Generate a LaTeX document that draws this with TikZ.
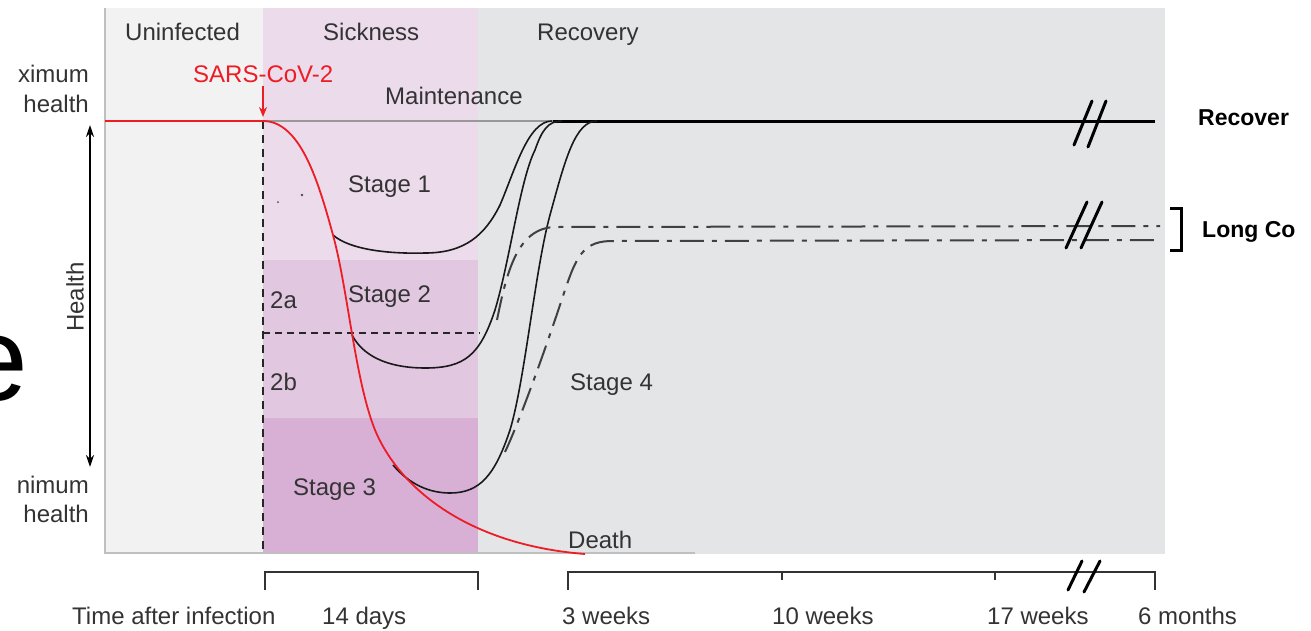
\documentclass[tikz,border=0pt]{standalone}
\usepackage{fontspec}
\setmainfont{Liberation Sans}
\usetikzlibrary{arrows.meta,positioning,calc}

\definecolor{uninf}{HTML}{F2F2F2}
\definecolor{recov}{HTML}{E4E5E7}
\definecolor{sick}{HTML}{EBDBEB}
\definecolor{stagetwo}{HTML}{E2C7E0}
\definecolor{stagethree}{HTML}{D8B0D6}
\definecolor{covred}{HTML}{EE1C25}
\definecolor{txt}{HTML}{333333}

\tikzset{
  lbl/.style={font=\fontsize{24}{28}\selectfont, inner sep=0pt, text=txt, anchor=base west},
  sidelbl/.style={lbl, font=\fontsize{23}{27}\selectfont\bfseries, text=black},
  curve/.style={line width=1.6pt, black!90},
  longcov/.style={line width=2pt, black!75, dash pattern=on 24pt off 8pt on 5pt off 8pt},
  brk/.style={line width=3pt, line cap=round, black},
  axisline/.style={line width=2pt, black!80}
}

\begin{document}
\begin{tikzpicture}[x=1pt, y=-1pt]
\useasboundingbox (0,0) rectangle (1311,630);

% panels
\fill[uninf] (105,8) rectangle (263,553);
\fill[sick] (263,8) rectangle (478,260);
\fill[stagetwo] (263,260) rectangle (478,418);
\fill[stagethree] (263,418) rectangle (478,553);
\fill[recov] (478,8) rectangle (1165,554);
\draw[black!25, line width=1.5pt] (105,8) -- (105,553) -- (695,553);

\node[anchor=base east, inner sep=0pt, font=\fontsize{120}{124}\selectfont] (bige) at (28,400) {e};

% headers
\node[lbl] (uninfected) at (125,40) {Uninfected};
\node[lbl] (sickness) at (323,40) {Sickness};
\node[lbl] (recovery) at (537,40) {Recovery};
\node[lbl, text=covred] (sars) at (193,82) {SARS-CoV-2};
\node[lbl] (maint) at (385,104) {Maintenance};

% health axis
\node[lbl, anchor=base east] (hmax) at (89,82) {ximum};
\node[lbl, anchor=base east] (hmaxb) at (89,112) {health};
\node[lbl, anchor=base east] (hmin) at (89,493) {nimum};
\node[lbl, anchor=base east] (hminb) at (89,522) {health};
\coordinate (hup) at (90,125);
\coordinate (hdown) at (90,467);
\draw[line width=2pt, {Stealth[length=12pt,width=8pt]}-{Stealth[length=12pt,width=8pt]}] (hup) -- (hdown);
\node[lbl, anchor=center, rotate=90] (health) at (75,297) {Health};

% infection marker and levels
\coordinate (inf) at (263,121);
\coordinate (infbot) at (263,553);
\draw[line width=1.6pt, dash pattern=on 8pt off 6pt, black!85] (inf) -- (infbot);
\draw[covred, line width=1.6pt, -{Stealth[length=10pt,width=8pt]}] (263,86) -- (263,117);
\draw[black!40, line width=2.5pt] (inf) -- (553,121);
\coordinate (topend) at (1155,121);
\draw[black, line width=3pt] (553,121) -- (topend);
\draw[line width=1.5pt, dash pattern=on 7pt off 5pt, black!85] (263,333) -- (480,333);
\fill[black!70] (278,202) circle (1pt) (302,195) circle (1.3pt);

% stage labels
\node[lbl] (s1) at (348,192) {Stage 1};
\node[lbl] (s2) at (348,302) {Stage 2};
\node[lbl] (s2a) at (270,308) {2a};
\node[lbl] (s2b) at (270,390) {2b};
\node[lbl] (s3) at (293,495) {Stage 3};
\node[lbl] (s4) at (570,390) {Stage 4};
\node[lbl] (death) at (568,548) {Death};

% recovery curves
\draw[curve] (333,235) .. controls (350,250) and (390,254) .. (425,253)
  .. controls (465,253) and (485,235) .. (500,205)
  .. controls (515,170) and (528,121) .. (552,121);
\draw[curve] (352,335) .. controls (365,360) and (395,368) .. (425,368)
  .. controls (465,368) and (480,355) .. (495,310)
  .. controls (510,260) and (520,180) .. (535,150)
  .. controls (542,130) and (548,121) .. (562,121);
\draw[curve] (393,465) .. controls (410,485) and (430,493) .. (450,493)
  .. controls (480,493) and (495,475) .. (510,430)
  .. controls (525,380) and (535,270) .. (550,215)
  .. controls (565,160) and (575,121) .. (597,121);

% long covid
\coordinate (lcone) at (1160,226);
\coordinate (lctwo) at (1160,240);
\draw[longcov] (497,320) .. controls (507,270) and (518,228) .. (555,227) -- (lcone);
\draw[longcov] (505,452) .. controls (520,420) and (545,350) .. (560,305)
  .. controls (575,260) and (580,242) .. (610,241) -- (lctwo);

% death
\draw[covred, line width=1.8pt] (105,121) -- (inf)
  .. controls (300,121) and (318,180) .. (333,235)
  .. controls (348,290) and (355,380) .. (375,430)
  .. controls (400,490) and (470,545) .. (585,554);

% breaks
\draw[brk] (1074,145) -- (1092,101) (1088,147) -- (1106,101);
\draw[brk] (1066,248) -- (1087,202) (1081,248) -- (1102,202);

% right labels
\node[sidelbl] (recover) at (1198,125) {Recover};
\draw[line width=3pt] (1170,208) -- (1181,208) -- (1181,250) -- (1170,250);
\node[sidelbl] (longco) at (1202,237) {Long Co};

% time axis
\draw[axisline] (265,590) -- (265,572) -- (478,572) -- (478,590);
\draw[axisline] (568,590) -- (568,572) -- (1155,572) -- (1155,590);
\draw[axisline] (782,572) -- (782,580) (995,572) -- (995,580);
\draw[brk] (1068,590) -- (1082,561) (1084,592) -- (1100,561);

\node[lbl] (tlabel) at (72,624) {Time after infection};
\node[lbl] (t14) at (322,624) {14 days};
\node[lbl] (t3w) at (562,624) {3 weeks};
\node[lbl] (t10w) at (772,624) {10 weeks};
\node[lbl] (t17w) at (987,624) {17 weeks};
\node[lbl] (t6m) at (1138,624) {6 months};
\end{tikzpicture}
\end{document}
